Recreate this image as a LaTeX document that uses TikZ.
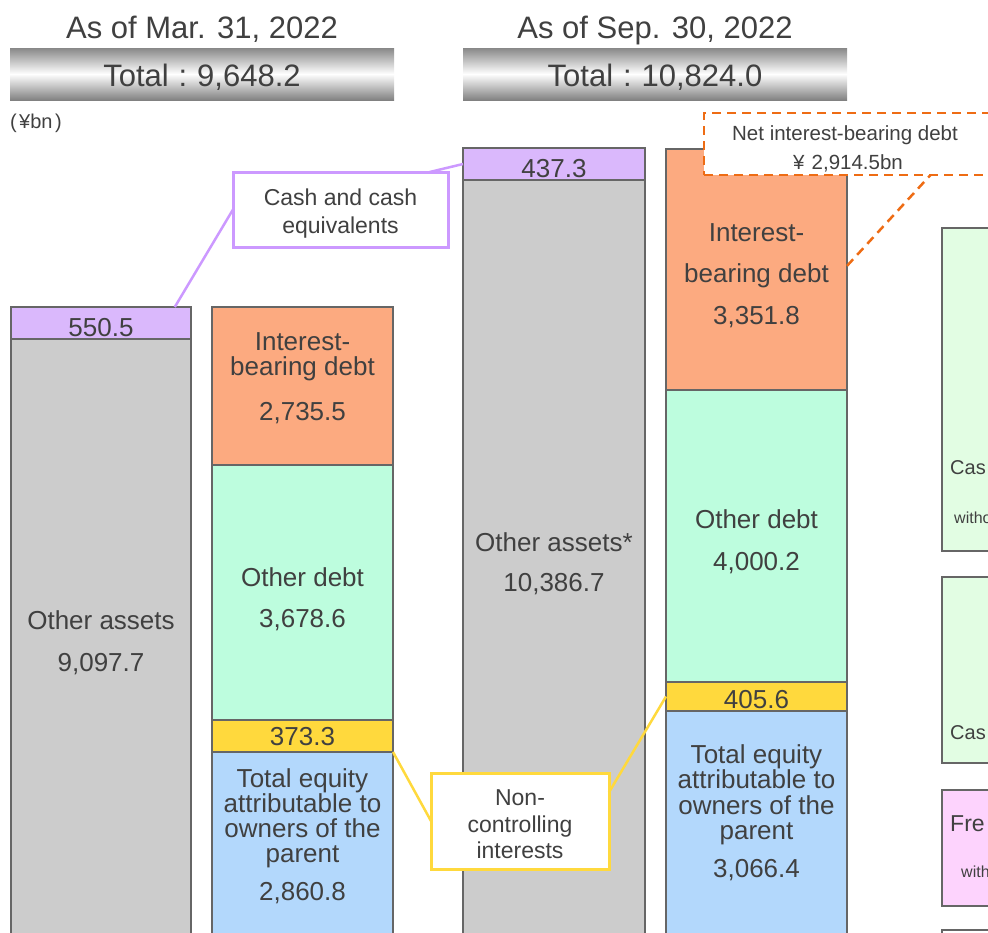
\documentclass[tikz,border=0pt]{standalone}
\usepackage{fontspec}
\setmainfont{Liberation Sans}
\usetikzlibrary{calc}
\definecolor{txt}{HTML}{404040}
\definecolor{barline}{HTML}{666666}
\definecolor{cashfill}{HTML}{DAB8FC}
\definecolor{cashline}{HTML}{CC99FF}
\definecolor{othfill}{HTML}{CCCCCC}
\definecolor{ibdfill}{HTML}{FCAA80}
\definecolor{odfill}{HTML}{BDFDDE}
\definecolor{ncifill}{HTML}{FFD93D}
\definecolor{eqfill}{HTML}{B3D8FC}
\definecolor{greenbox}{HTML}{E2FDE3}
\definecolor{pinkbox}{HTML}{FDD3FD}
\definecolor{netline}{HTML}{EE6C14}
\definecolor{hdrgray}{HTML}{888888}
\begin{document}
\begin{tikzpicture}[x=1pt,y=-1pt,
  bar/.style={draw=barline, line width=2pt, inner sep=0pt, outer sep=0pt, anchor=north west, rectangle},
  hdrbar/.style={inner sep=0pt, outer sep=0pt, anchor=north west, rectangle, top color=hdrgray, bottom color=hdrgray!95!black, middle color=white},
  callout/.style={draw, fill=white, line width=3pt, inner sep=0pt, outer sep=0pt, anchor=north west, rectangle},
  lbl/.style={text=txt, inner sep=0pt, anchor=base, font=\fontsize{26}{30}\selectfont},
  ttl/.style={text=txt, inner sep=0pt, anchor=base, font=\fontsize{31}{36}\selectfont},
  cal/.style={text=txt, inner sep=0pt, anchor=base, font=\fontsize{23}{28}\selectfont},
  net/.style={text=txt, inner sep=0pt, anchor=base, font=\fontsize{20.5}{26}\selectfont},
  edge/.style={text=txt, inner sep=0pt, anchor=base west},
  link/.style={line width=2.5pt}
]
\useasboundingbox (0,0) rectangle (988,932);
\clip (0,0) rectangle (988,932);

% headers
\node[ttl] (titA) at (202,38) {As of Mar. 31, 2022};
\node[ttl] (titB) at (655,38) {As of Sep. 30, 2022};
\node[hdrbar, minimum width=384pt, minimum height=52pt] (hdrA) at (10,48) {};
\node[hdrbar, minimum width=384pt, minimum height=52pt] (hdrB) at (463,48) {};
\node[ttl] (totA) at (202,86) {Total\hspace{0.32em}:\hspace{0.32em}9,648.2};
\node[ttl] (totB) at (655,86) {Total\hspace{0.32em}:\hspace{0.32em}10,824.0};
\node[text=txt, inner sep=0pt, anchor=base west, font=\fontsize{20}{24}\selectfont] (unit) at (10,128) {(\hspace{0.12em}¥bn\hspace{0.12em})};

% column A: Mar assets
\node[bar, fill=cashfill, minimum width=180pt, minimum height=32pt] (cashA) at (11,307) {};
\node[bar, fill=othfill, minimum width=180pt, minimum height=620pt] (othA) at (11,339) {};
\node[lbl] (cashAv) at (101,336) {550.5};
\node[lbl] (othA1) at (101,629) {Other assets};
\node[lbl] (othA2) at (101,671) {9,097.7};

% column B: Mar liabilities
\node[bar, fill=ibdfill, minimum width=181pt, minimum height=158pt] (ibdB) at (212,307) {};
\node[bar, fill=odfill, minimum width=181pt, minimum height=255pt] (odB) at (212,465) {};
\node[bar, fill=ncifill, minimum width=181pt, minimum height=32pt] (nciB) at (212,720) {};
\node[bar, fill=eqfill, minimum width=181pt, minimum height=220pt] (eqB) at (212,752) {};
\node[lbl] (ibdB1) at (302.5,350) {Interest-};
\node[lbl] (ibdB2) at (302.5,375) {bearing debt};
\node[lbl] (ibdB3) at (302.5,420) {2,735.5};
\node[lbl] (odB1) at (302.5,586) {Other debt};
\node[lbl] (odB2) at (302.5,627) {3,678.6};
\node[lbl] (nciBv) at (302.5,745) {373.3};
\node[lbl] (eqB1) at (302.5,787) {Total equity};
\node[lbl] (eqB2) at (302.5,812) {attributable to};
\node[lbl] (eqB3) at (302.5,837) {owners of the};
\node[lbl] (eqB4) at (302.5,862) {parent};
\node[lbl] (eqB5) at (302.5,900) {2,860.8};

% column C: Sep assets
\node[bar, fill=cashfill, minimum width=182pt, minimum height=32pt] (cashC) at (463,148) {};
\node[bar, fill=othfill, minimum width=182pt, minimum height=780pt] (othC) at (463,180) {};
\node[lbl] (cashCv) at (554,177) {437.3};
\node[lbl] (othC1) at (554,551) {Other assets*};
\node[lbl] (othC2) at (554,591) {10,386.7};

% column D: Sep liabilities
\node[bar, fill=ibdfill, minimum width=181pt, minimum height=241pt] (ibdD) at (666,149) {};
\node[bar, fill=odfill, minimum width=181pt, minimum height=292pt] (odD) at (666,390) {};
\node[bar, fill=ncifill, minimum width=181pt, minimum height=29pt] (nciD) at (666,682) {};
\node[bar, fill=eqfill, minimum width=181pt, minimum height=250pt] (eqD) at (666,711) {};
\node[lbl] (ibdD1) at (756.5,241) {Interest-};
\node[lbl] (ibdD2) at (756.5,282) {bearing debt};
\node[lbl] (ibdD3) at (756.5,324) {3,351.8};
\node[lbl] (odD1) at (756.5,528) {Other debt};
\node[lbl] (odD2) at (756.5,570) {4,000.2};
\node[lbl] (nciDv) at (756.5,708) {405.6};
\node[lbl] (eqD1) at (756.5,763) {Total equity};
\node[lbl] (eqD2) at (756.5,788) {attributable to};
\node[lbl] (eqD3) at (756.5,814) {owners of the};
\node[lbl] (eqD4) at (756.5,839) {parent};
\node[lbl] (eqD5) at (756.5,877) {3,066.4};

% right-edge boxes (cut off by the picture's edge)
\node[bar, fill=greenbox, minimum width=70pt, minimum height=323pt] (rb1) at (942,228) {};
\node[bar, fill=greenbox, minimum width=70pt, minimum height=186pt] (rb2) at (942,577) {};
\node[bar, fill=pinkbox, minimum width=70pt, minimum height=116pt] (rb3) at (942,790) {};
\node[bar, fill=white, minimum width=70pt, minimum height=40pt] (rb4) at (942,930) {};
\node[edge, font=\fontsize{20}{24}\selectfont] (rb1a) at (950,474) {Cas};
\node[edge, font=\fontsize{16}{20}\selectfont] (rb1b) at (954,523) {witho};
\node[edge, font=\fontsize{20}{24}\selectfont] (rb2a) at (950,739) {Cas};
\node[edge, font=\fontsize{23}{26}\selectfont] (rb3a) at (950,831) {Fre};
\node[edge, font=\fontsize{16}{20}\selectfont] (rb3b) at (961,877) {with};

% cash callout
\node[callout, draw=cashline, minimum width=215pt, minimum height=75pt] (cashcall) at (233,172) {};
\node[cal] (cashcall1) at (340.5,205) {Cash and cash};
\node[cal] (cashcall2) at (340.5,233) {equivalents};
\draw[link, draw=cashline] (cashcall.west) -- ($(cashA.north west)!0.91!(cashA.north east)$);
\draw[link, draw=cashline] ($(cashcall.north west)!0.915!(cashcall.north east)$) -- (cashC.west);

% non-controlling interests callout
\node[callout, draw=ncifill, minimum width=178pt, minimum height=96pt] (ncicall) at (431,773) {};
\node[cal] (ncicall1) at (520,805) {Non-};
\node[cal] (ncicall2) at (520,832) {controlling};
\node[cal] (ncicall3) at (520,858) {interests};
\draw[link, draw=ncifill] (nciB.south east) -- (ncicall.west);
\draw[link, draw=ncifill] ($(ncicall.north east)!0.2!(ncicall.south east)$) -- (nciD.west);

% net interest-bearing debt callout
\node[callout, draw=netline, line width=2.5pt, dash pattern=on 9pt off 6pt, minimum width=300pt, minimum height=62pt] (netcall) at (704,113) {};
\node[net] (net1) at (845,140) {Net interest-bearing debt};
\node[net] (net2) at (848,169) {¥\hspace{0.35em}2,914.5bn};
\draw[line width=2.5pt, draw=netline, dash pattern=on 9pt off 6pt] ($(ibdD.north east)!0.485!(ibdD.south east)$) -- ($(netcall.south west)!0.755!(netcall.south east)$);
\end{tikzpicture}
\end{document}
